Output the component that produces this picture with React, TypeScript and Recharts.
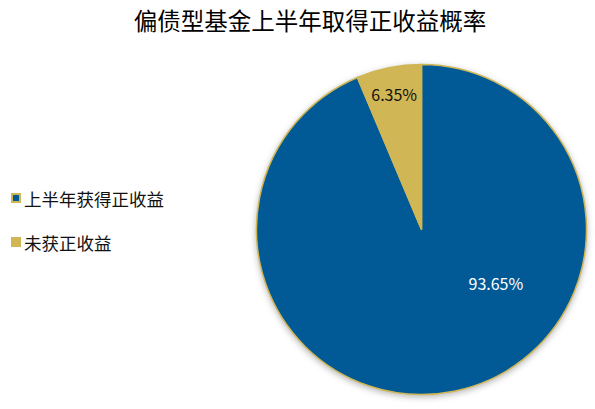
import { PieChart, Pie, Cell } from 'recharts';

// ─── Data ─────────────────────────────────────────────────────
const CATEGORIES = ['上半年获得正收益', '未获正收益'];
const VALUES = [93.65, 6.35];
const COLORS = ['#015A96', '#D0B654'];
const TITLE = '偏债型基金上半年取得正收益概率';

const data = CATEGORIES.map((name, i) => ({ name, value: VALUES[i] }));

const FONT = '"Noto Sans CJK SC", "Noto Sans", sans-serif';
const RAD = Math.PI / 180;

// label placement: [radius fraction, angle override in degrees (recharts convention) or null]
const LABEL_POS: [number, number | null][] = [
    [0.555, -35.7],
    [0.835, null],
];

// eslint-disable-next-line @typescript-eslint/no-explicit-any
const renderLabel = (props: any) => {
    const { cx, cy, outerRadius, midAngle, index, value } = props;
    const [f, ang] = LABEL_POS[index];
    const a = ang ?? midAngle;
    const r = outerRadius * f;
    const x = cx + r * Math.cos(-a * RAD);
    const y = cy + r * Math.sin(-a * RAD);
    return (
        <text
            x={x}
            y={y}
            textAnchor="middle"
            dominantBaseline="central"
            style={{ fontFamily: FONT, fontSize: 16, fill: index === 0 ? '#ffffff' : '#111111' }}
        >
            {`${value.toFixed(2)}%`}
        </text>
    );
};

// ─── Legend (plain HTML so it doesn't shift the pie) ─────────
const SideLegend = () => (
    <div style={{ position: 'absolute', left: 11, top: 176, fontFamily: FONT }}>
        {CATEGORIES.map((name, i) => (
            <div key={name} style={{ display: 'flex', alignItems: 'center', height: 44 }}>
                <span
                    style={{
                        width: 10,
                        height: 10,
                        boxSizing: 'border-box',
                        background: COLORS[i],
                        border: i === 0 ? `2px solid ${COLORS[1]}` : 'none',
                        marginRight: 3,
                    }}
                />
                <span style={{ fontSize: 17.5, color: '#111' }}>{name}</span>
            </div>
        ))}
    </div>
);

export default function App() {
    return (
        <div style={{ position: 'absolute', left: 0, top: 0, width: 595, height: 409, background: '#fff' }}>
            <style>{`.recharts-pie { filter: drop-shadow(0px 2px 3px rgba(0,0,0,0.28)); }`}</style>
            <div
                style={{
                    position: 'absolute',
                    top: 3,
                    left: 0,
                    width: 620,
                    textAlign: 'center',
                    fontFamily: FONT,
                    fontSize: 23.5,
                    fontWeight: 400,
                    color: '#000',
                    lineHeight: '34px',
                }}
            >
                {TITLE}
            </div>
            <SideLegend />
            <div style={{ position: 'absolute', left: 0, top: 0 }}>
                <PieChart width={595} height={409} margin={{ top: 0, right: 0, bottom: 0, left: 0 }}>
                    <Pie
                        data={data}
                        dataKey="value"
                        nameKey="name"
                        cx={421.5}
                        cy={229.5}
                        outerRadius={165}
                        startAngle={90}
                        endAngle={-270}
                        stroke={COLORS[1]}
                        strokeWidth={1.5}
                        label={renderLabel}
                        labelLine={false}
                        isAnimationActive={false}
                    >
                        {data.map((_, i) => (
                            <Cell key={i} fill={COLORS[i]} />
                        ))}
                    </Pie>
                </PieChart>
            </div>
        </div>
    );
}
